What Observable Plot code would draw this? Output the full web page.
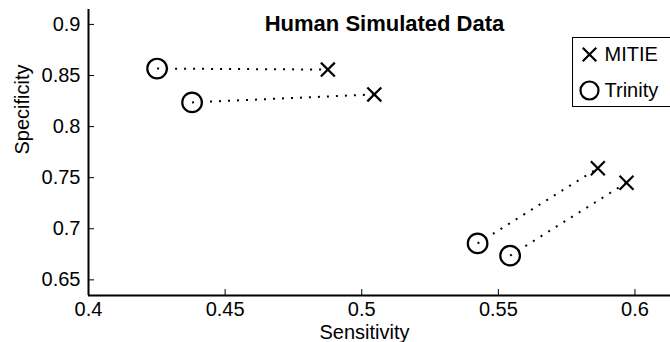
<!DOCTYPE html>
<html><head><meta charset="utf-8">
<script src="https://cdn.jsdelivr.net/npm/d3@7"></script>
<script src="https://cdn.jsdelivr.net/npm/@observablehq/plot@0.6"></script>
<style>body{margin:0;background:#fff}svg{display:block}</style>
</head><body><div id="chart"></div>
<script>
const title = "Human Simulated Data";
const xLabel = "Sensitivity";
const yLabel = "Specificity";
const seriesNames = ["MITIE", "Trinity"];
const trinitySens = [0.4251, 0.4379, 0.5424, 0.5543];
const trinitySpec = [0.8568, 0.8237, 0.6857, 0.6737];
const mitieSens = [0.4876, 0.5046, 0.5864, 0.5969];
const mitieSpec = [0.8558, 0.8315, 0.7592, 0.7451];
const xTicks = [0.4, 0.45, 0.5, 0.55, 0.6];
const yTicks = [0.65, 0.7, 0.75, 0.8, 0.85, 0.9];
const xDomain = [0.4, 0.613];
const yDomain = [0.6347, 0.9146];

const W = 670, H = 342, mL = 88, mT = 9, mB = 47, mR = 0;
const innerW = W - mL - mR, innerH = H - mT - mB;
const font = "Liberation Sans, Arial, Helvetica, sans-serif";
const fs = 20;

const pairs = trinitySens.map((_, i) => ({x1: trinitySens[i], y1: trinitySpec[i], x2: mitieSens[i], y2: mitieSpec[i]}));
const trinity = trinitySens.map((s, i) => ({x: s, y: trinitySpec[i]}));
const mitie = mitieSens.map((s, i) => ({x: s, y: mitieSpec[i]}));

const chart = Plot.plot({
  width: W, height: H,
  marginLeft: mL, marginTop: mT, marginBottom: mB, marginRight: mR,
  style: {fontFamily: font, fontSize: fs + "px", color: "black", background: "white", overflow: "hidden"},
  x: {domain: xDomain},
  y: {domain: yDomain},
  marks: [
    Plot.link(pairs, {x1: "x1", y1: "y1", x2: "x2", y2: "y2", stroke: "black", strokeWidth: 2, strokeDasharray: "2 7", strokeLinecap: "butt"}),
    Plot.dot(trinity, {x: "x", y: "y", symbol: "circle", r: 9.8, stroke: "black", strokeWidth: 2.2, fill: "none"}),
    Plot.dot(mitie, {x: "x", y: "y", symbol: "times", r: 6.4, stroke: "black", strokeWidth: 2.2}),
    Plot.ruleX([xDomain[0]], {stroke: "black", strokeWidth: 2}),
    Plot.ruleY([yDomain[0]], {stroke: "black", strokeWidth: 2}),
    Plot.tickY(yTicks, {y: d => d, insetRight: innerW - 6, stroke: "black", strokeWidth: 1}),
    Plot.tickX(xTicks, {x: d => d, insetTop: innerH - 6, stroke: "black", strokeWidth: 1}),
    Plot.axisY({ticks: yTicks, tickSize: 0, tickPadding: 8, tickFormat: d => String(d), label: null, fontSize: fs}),
    Plot.axisX({ticks: xTicks, tickSize: 0, tickPadding: 6, tickFormat: d => String(d), label: null, fontSize: fs}),
    Plot.text([title], {frameAnchor: "top", dx: 5, dy: 21, lineAnchor: "bottom", fontWeight: "bold", fontSize: 22, fill: "black"}),
    Plot.text([xLabel], {frameAnchor: "bottom", dx: -15, dy: 43, lineAnchor: "bottom", fontSize: fs, fill: "black"}),
    Plot.text([yLabel], {frameAnchor: "left", rotate: -90, dx: -60, dy: 2, lineAnchor: "bottom", fontSize: fs, fill: "black"}),
    Plot.frame({insetLeft: 572 - mL, insetTop: 37 - mT, insetBottom: mT + innerH - 106, insetRight: -20, stroke: "black", strokeWidth: 1, fill: "white"}),
    Plot.dot([seriesNames[0]], {frameAnchor: "top-left", dx: 589 - mL, dy: 54 - mT, symbol: "times", r: 6.2, stroke: "black", strokeWidth: 2.2}),
    Plot.dot([seriesNames[1]], {frameAnchor: "top-left", dx: 589 - mL, dy: 90 - mT, symbol: "circle", r: 9, stroke: "black", strokeWidth: 2.2, fill: "none"}),
    Plot.text([seriesNames[0]], {frameAnchor: "top-left", dx: 604 - mL, dy: 54 - mT, textAnchor: "start", lineAnchor: "middle", fontSize: fs, fill: "black"}),
    Plot.text([seriesNames[1]], {frameAnchor: "top-left", dx: 604 - mL, dy: 90 - mT, textAnchor: "start", lineAnchor: "middle", fontSize: fs, fill: "black"})
  ]
});
document.getElementById("chart").appendChild(chart);
</script>
</body></html>
